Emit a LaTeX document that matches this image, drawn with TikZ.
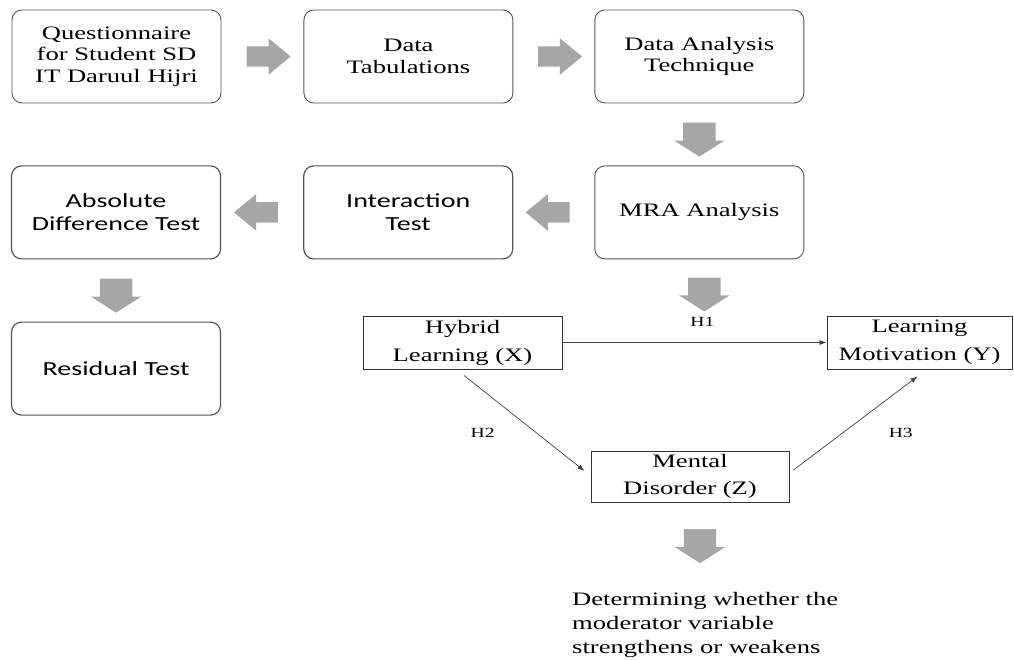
\documentclass[tikz,border=0pt]{standalone}
\usepackage{fontspec}
\usepackage{graphicx}
\newfontfamily\boxserif{Liberation Serif}
\newfontfamily\boxsans{Carlito}
\newcommand{\wl}[1]{\scalebox{1.4}[1]{#1}}
\usepackage{tikz}
\usetikzlibrary{shapes,arrows}
\usetikzlibrary{arrows.meta,calc,positioning}
\definecolor{arrowgray}{RGB}{166,166,166}
\definecolor{edgegray}{RGB}{85,85,85}
\tikzset{
    stepserif/.style = {draw=edgegray, line width=0.9pt, rounded corners=10pt, minimum width=209pt, minimum height=93pt, align=center, inner sep=0pt, font=\boxserif\fontsize{19}{21.7}\selectfont},
    stephead/.style = {stepserif, font=\fontspec{Liberation Serif}\fontsize{19}{21.7}\selectfont},
    stepsans/.style = {draw=edgegray, line width=1.2pt, rounded corners=10pt, minimum width=209pt, minimum height=93pt, align=center, inner sep=0pt, font=\boxsans\fontsize{20}{23}\selectfont},
    varblock/.style = {draw=black!80, line width=0.9pt, minimum height=53pt, align=center, inner sep=0pt, font=\boxserif\fontsize{19}{28}\selectfont},
    harrow/.style = {single arrow, fill=arrowgray, inner xsep=0pt, inner ysep=10pt, minimum height=44pt, single arrow head extend=8pt, single arrow tip angle=79},
    varrow/.style = {single arrow, fill=arrowgray, inner xsep=0pt, inner ysep=16pt, minimum height=34pt, single arrow head extend=9pt, single arrow tip angle=115, rotate=-90},
    arrow/.style = {draw=black!75, line width=0.7pt, -{Latex[length=7pt,width=5pt]}},
    hlabel/.style = {font=\boxserif\fontsize{14}{16}\selectfont},
}

\begin{document}
\begin{tikzpicture}[x=1pt, y=-1pt]
    \useasboundingbox (0,0) rectangle (1014,660);
    % process chain
    \node [stephead] (quest) at (116.5,56.5) {\wl{Questionnaire}\\\wl{for Student SD}\\\wl{IT Daruul Hijri}};
    \node [stephead, right=82pt of quest] (tab) {\wl{Data}\\\wl{Tabulations}};
    \node [stephead, right=81pt of tab] (tech) {\wl{Data Analysis}\\\wl{Technique}};
    \node [stepserif, below=62pt of tech] (mra) {\wl{MRA Analysis}};
    \node [stepsans, left=81pt of mra] (inter) {\wl{Interaction}\\\wl{Test}};
    \node [stepsans, left=82pt of inter] (abs) {\wl{Absolute}\\\wl{Difference Test}};
    \node [stepsans, below=62pt of abs] (res) {\wl{Residual Test}};
    \node [harrow] at ($(quest.east)!0.5!(tab.west)$) {};
    \node [harrow] at ($(tab.east)!0.5!(tech.west)$) {};
    \node [varrow] at ($(tech.south)!0.5!(mra.north)$) {};
    \node [harrow, shape border rotate=180] at ($(mra.west)!0.5!(inter.east)$) {};
    \node [harrow, shape border rotate=180] at ($(inter.west)!0.5!(abs.east)$) {};
    \node [varrow] at ($(abs.south)!0.5!(res.north)$) {};
    \node [varrow] at ($(mra.south)+(5,30)$) {};
    % moderation model
    \node [varblock, minimum width=199pt] (hyb) at (462.5,342.5) {\wl{Hybrid}\\\wl{Learning (X)}};
    \node [varblock, minimum width=185pt] (mot) at (919.5,342.5) {\wl{Learning}\\\wl{Motivation (Y)}};
    \node [varblock, minimum width=198pt, minimum height=51pt, font=\boxserif\fontsize{19}{27}\selectfont] (dis) at (690,476.5) {\wl{Mental}\\\wl{Disorder (Z)}};
    \draw [arrow] (hyb) -- node [hlabel, pos=0.53, above=12pt] {\wl{H1}} (mot);
    \draw [arrow] ($(hyb.south)+(1.5,6)$) -- node [hlabel, pos=0.6, left=38pt] {\wl{H2}} ($(dis.west)+(-6,-5.5)$);
    \draw [arrow] ($(dis.east)+(4,-6.5)$) -- node [hlabel, pos=0.4, right=42pt] {\wl{H3}} ($(mot.south)+(-2,7)$);
    \node [varrow] at ($(dis.south)+(10,38.5)$) {};
    \node [font=\boxserif\fontsize{19}{24}\selectfont, align=left, anchor=north west, inner sep=0pt] (result) at (572,592) {\wl{Determining whether the}\\\wl{moderator variable}\\\wl{strengthens or weakens}};
\end{tikzpicture}
\end{document}
